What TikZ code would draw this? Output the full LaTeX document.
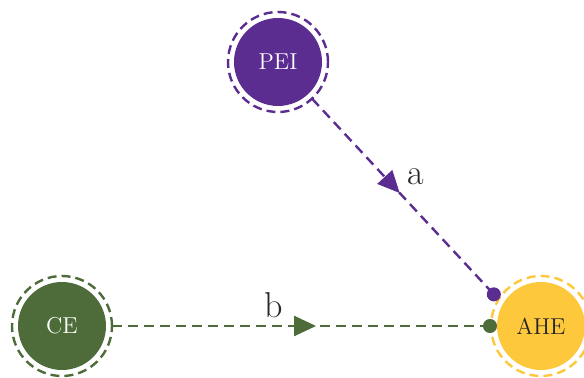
\documentclass[tikz,border=0pt]{standalone}
\usetikzlibrary{arrows.meta,decorations.markings}
\definecolor{peicol}{RGB}{92,45,145}
\definecolor{cecol}{RGB}{78,108,58}
\definecolor{ahecol}{RGB}{254,200,60}

\begin{document}
\begin{tikzpicture}[x=0.5pt, y=-0.5pt,
  ent/.style={circle, fill=#1, minimum size=44pt, inner sep=0pt, outer sep=3pt,
              font=\fontsize{11.5}{13}\selectfont, text=white},
  ring/.style={draw=#1, line width=1.2pt, dash pattern=on 4.5pt off 2.5pt},
  flow/.style 2 args={color=#1, draw, line width=1.2pt, dash pattern=on 5pt off 3pt,
               -{Circle[length=7pt]}, postaction={decorate},
               decoration={markings, mark=at position #2 with
                 {\arrow{Triangle[length=11pt,width=10pt]}}}},
  lbl/.style={font=\fontsize{18}{20}\selectfont, text=black!85},
]
\useasboundingbox (0,0) rectangle (584,378);

\node[ent=peicol] (PEI) at (278,62) {PEI};
\node[ent=cecol] (CE) at (62,326) {CE};
\node[ent=ahecol, text=black!85] (AHE) at (541,326) {AHE};

\draw[ring=peicol] (PEI.center) circle[radius=25pt];
\draw[ring=cecol]  (CE.center)  circle[radius=25pt];
\draw[ring=ahecol] (AHE.center) circle[radius=25pt];

\draw[flow={peicol}{0.47}] (PEI) -- (AHE.148) node[lbl, pos=0.47, above right] {a};
\draw[flow={cecol}{0.53}]  (CE) -- ([xshift=3pt]AHE.west) node[lbl, pos=0.42, above] {b};
\end{tikzpicture}
\end{document}
